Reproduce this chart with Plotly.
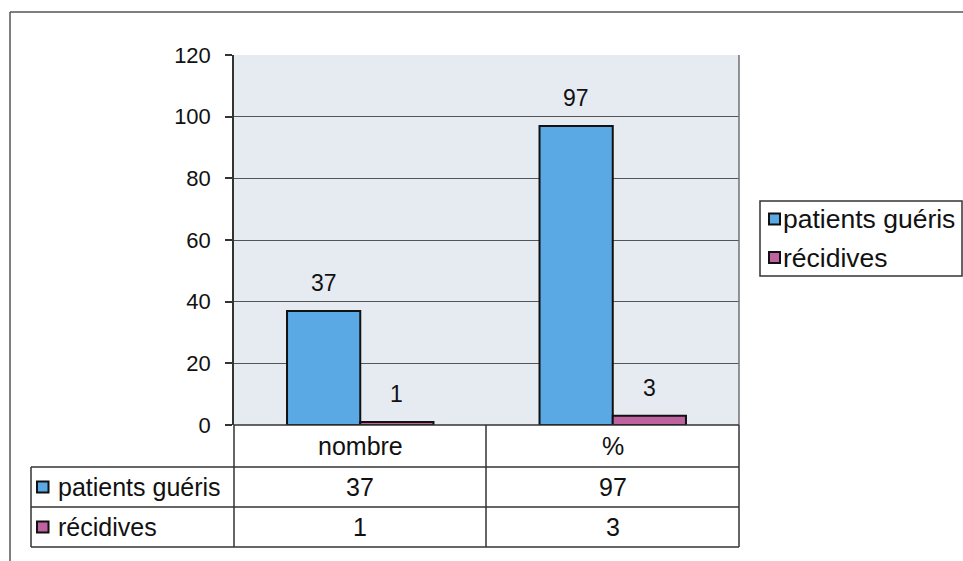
import plotly.graph_objects as go

# ---------------- data ----------------
categories = ["nombre", "%"]
series_names = ["patients guéris", "récidives"]
gueris = [37, 97]
recidives = [1, 3]
y_ticks = [0, 20, 40, 60, 80, 100, 120]

# ---------------- style ----------------
W, H = 963, 561
OFF = 0   # body margin removed via post_script
FONT = "Liberation Sans, Arial, sans-serif"
COL_BLUE = "#5AA8E4"
COL_PINK = "#BE62A0"
PLOT_BG = "#E6EBF2"
GRID = "#555555"
series_values = [gueris, recidives]
series_colors = [COL_BLUE, COL_PINK]

def px(x):
    return (x - OFF) / W

def py(y):
    return 1 - (y - OFF) / H

PL, PR, PT, PB = 234, 739, 55, 425      # plot area in pixels
TBL_L = 31                              # table left edge
ROW_Y = [425, 467, 507, 547]            # table row boundaries
MID_X = 486                             # table column divider
BARGAP = 0.42

fig = go.Figure()
for name, vals, col in zip(series_names, series_values, series_colors):
    fig.add_trace(go.Bar(
        x=categories, y=vals, name=name,
        marker=dict(color=col, line=dict(color="#111111", width=2)),
        showlegend=False, hoverinfo="x+y+name",
    ))

shapes = []
annotations = []

# value labels above bars
cat_px = (PR - PL) / len(categories)
bar_px = cat_px * (1 - BARGAP) / len(series_names)
for si, vals in enumerate(series_values):
    off = (si - (len(series_names) - 1) / 2) * bar_px
    for cat, v in zip(categories, vals):
        annotations.append(dict(
            x=cat, y=v, xref="x", yref="y", text=str(v), showarrow=False,
            xshift=off, yshift=28, yanchor="middle", xanchor="center",
            font=dict(family=FONT, size=23, color="#111111"),
        ))

# plot area right border
shapes.append(dict(type="line", xref="paper", yref="paper",
                   x0=px(PR), x1=px(PR), y0=py(PT), y1=py(PB),
                   line=dict(color="#707070", width=1.5)))

# ---- data table ----
LINE = dict(color="#333333", width=1.5)
shapes.append(dict(type="line", xref="paper", yref="paper",
                   x0=px(PL), x1=px(PR), y0=py(ROW_Y[0]), y1=py(ROW_Y[0]), line=LINE))
for yy in ROW_Y[1:]:
    shapes.append(dict(type="line", xref="paper", yref="paper",
                       x0=px(TBL_L), x1=px(PR), y0=py(yy), y1=py(yy), line=LINE))
shapes.append(dict(type="line", xref="paper", yref="paper",
                   x0=px(TBL_L), x1=px(TBL_L), y0=py(ROW_Y[1]), y1=py(ROW_Y[3]), line=LINE))
shapes.append(dict(type="line", xref="paper", yref="paper",
                   x0=px(PL), x1=px(PL), y0=py(ROW_Y[0]), y1=py(ROW_Y[3]), line=LINE))
shapes.append(dict(type="line", xref="paper", yref="paper",
                   x0=px(MID_X), x1=px(MID_X), y0=py(ROW_Y[0]), y1=py(ROW_Y[3]), line=LINE))
shapes.append(dict(type="line", xref="paper", yref="paper",
                   x0=px(PR), x1=px(PR), y0=py(ROW_Y[0]), y1=py(ROW_Y[3]), line=LINE))

TFONT = dict(family=FONT, size=25, color="#111111")
for cat in categories:
    annotations.append(dict(x=cat, xref="x", y=py((ROW_Y[0] + ROW_Y[1]) / 2), yref="paper",
                            text=cat, showarrow=False, xanchor="center", yanchor="middle",
                            font=TFONT))
for ri, (name, vals, col) in enumerate(zip(series_names, series_values, series_colors)):
    y0, y1 = ROW_Y[ri + 1], ROW_Y[ri + 2]
    yc = (y0 + y1) / 2
    for cat, v in zip(categories, vals):
        annotations.append(dict(x=cat, xref="x", y=py(yc), yref="paper",
                                text=str(v), showarrow=False, xanchor="center",
                                yanchor="middle", font=TFONT))
    shapes.append(dict(type="rect", xref="paper", yref="paper",
                       x0=px(37), x1=px(48.5), y0=py(yc - 5.5), y1=py(yc + 5.5),
                       fillcolor=col, line=dict(color="#111111", width=2)))
    annotations.append(dict(x=px(56), xref="paper", y=py(yc), yref="paper",
                            text=name, showarrow=False, xanchor="left",
                            yanchor="middle", font=TFONT))

# ---- legend (custom box) ----
LG_L, LG_R, LG_T, LG_B = 760, 962, 201, 276
shapes.append(dict(type="rect", xref="paper", yref="paper",
                   x0=px(LG_L), x1=px(LG_R), y0=py(LG_T), y1=py(LG_B),
                   fillcolor="white", line=dict(color="#333333", width=1.5)))
LFONT = dict(family=FONT, size=26.5, color="#111111")
for ri, (name, col) in enumerate(zip(series_names, series_colors)):
    yc = 219 + ri * 38.5
    shapes.append(dict(type="rect", xref="paper", yref="paper",
                       x0=px(769), x1=px(780), y0=py(yc - 5.5), y1=py(yc + 5.5),
                       fillcolor=col, line=dict(color="#111111", width=2)))
    annotations.append(dict(x=px(781), xref="paper", y=py(yc), yref="paper",
                            text=name, showarrow=False, xanchor="left",
                            yanchor="middle", font=LFONT))

# ---- outer chart frame ----
FRAME = dict(color="#555555", width=1.5)
shapes.append(dict(type="line", xref="paper", yref="paper",
                   x0=px(10), x1=1, y0=py(12), y1=py(12), line=FRAME))
shapes.append(dict(type="line", xref="paper", yref="paper",
                   x0=px(10), x1=px(10), y0=py(12), y1=0, line=FRAME))

fig.update_layout(
    template="none",
    width=W, height=H,
    margin=dict(l=0, r=0, t=0, b=0, pad=0, autoexpand=False),
    paper_bgcolor="white",
    plot_bgcolor=PLOT_BG,
    barmode="group", bargap=BARGAP, bargroupgap=0,
    showlegend=False,
    font=dict(family=FONT, color="#111111"),
    xaxis=dict(domain=[px(PL), px(PR)], range=[-0.5, len(categories) - 0.5],
               showticklabels=False, showgrid=False, zeroline=False,
               showline=False, ticks="", fixedrange=True, automargin=False),
    yaxis=dict(domain=[py(PB), py(PT)], range=[0, 120], tickvals=y_ticks,
               showgrid=True, gridcolor=GRID, gridwidth=1, zeroline=False,
               showline=True, linecolor="#333333", linewidth=1.5,
               ticks="outside", ticklen=7, tickcolor="#333333", tickwidth=1.5,
               ticklabelstandoff=10, automargin=False,
               tickfont=dict(family=FONT, size=22, color="#111111"),
               fixedrange=True),
    shapes=shapes,
    annotations=annotations,
)

fig.write_html(
    "out.html",
    config={"displayModeBar": False},
    post_script="document.body.style.margin='0';document.body.style.overflow='hidden';",
)
